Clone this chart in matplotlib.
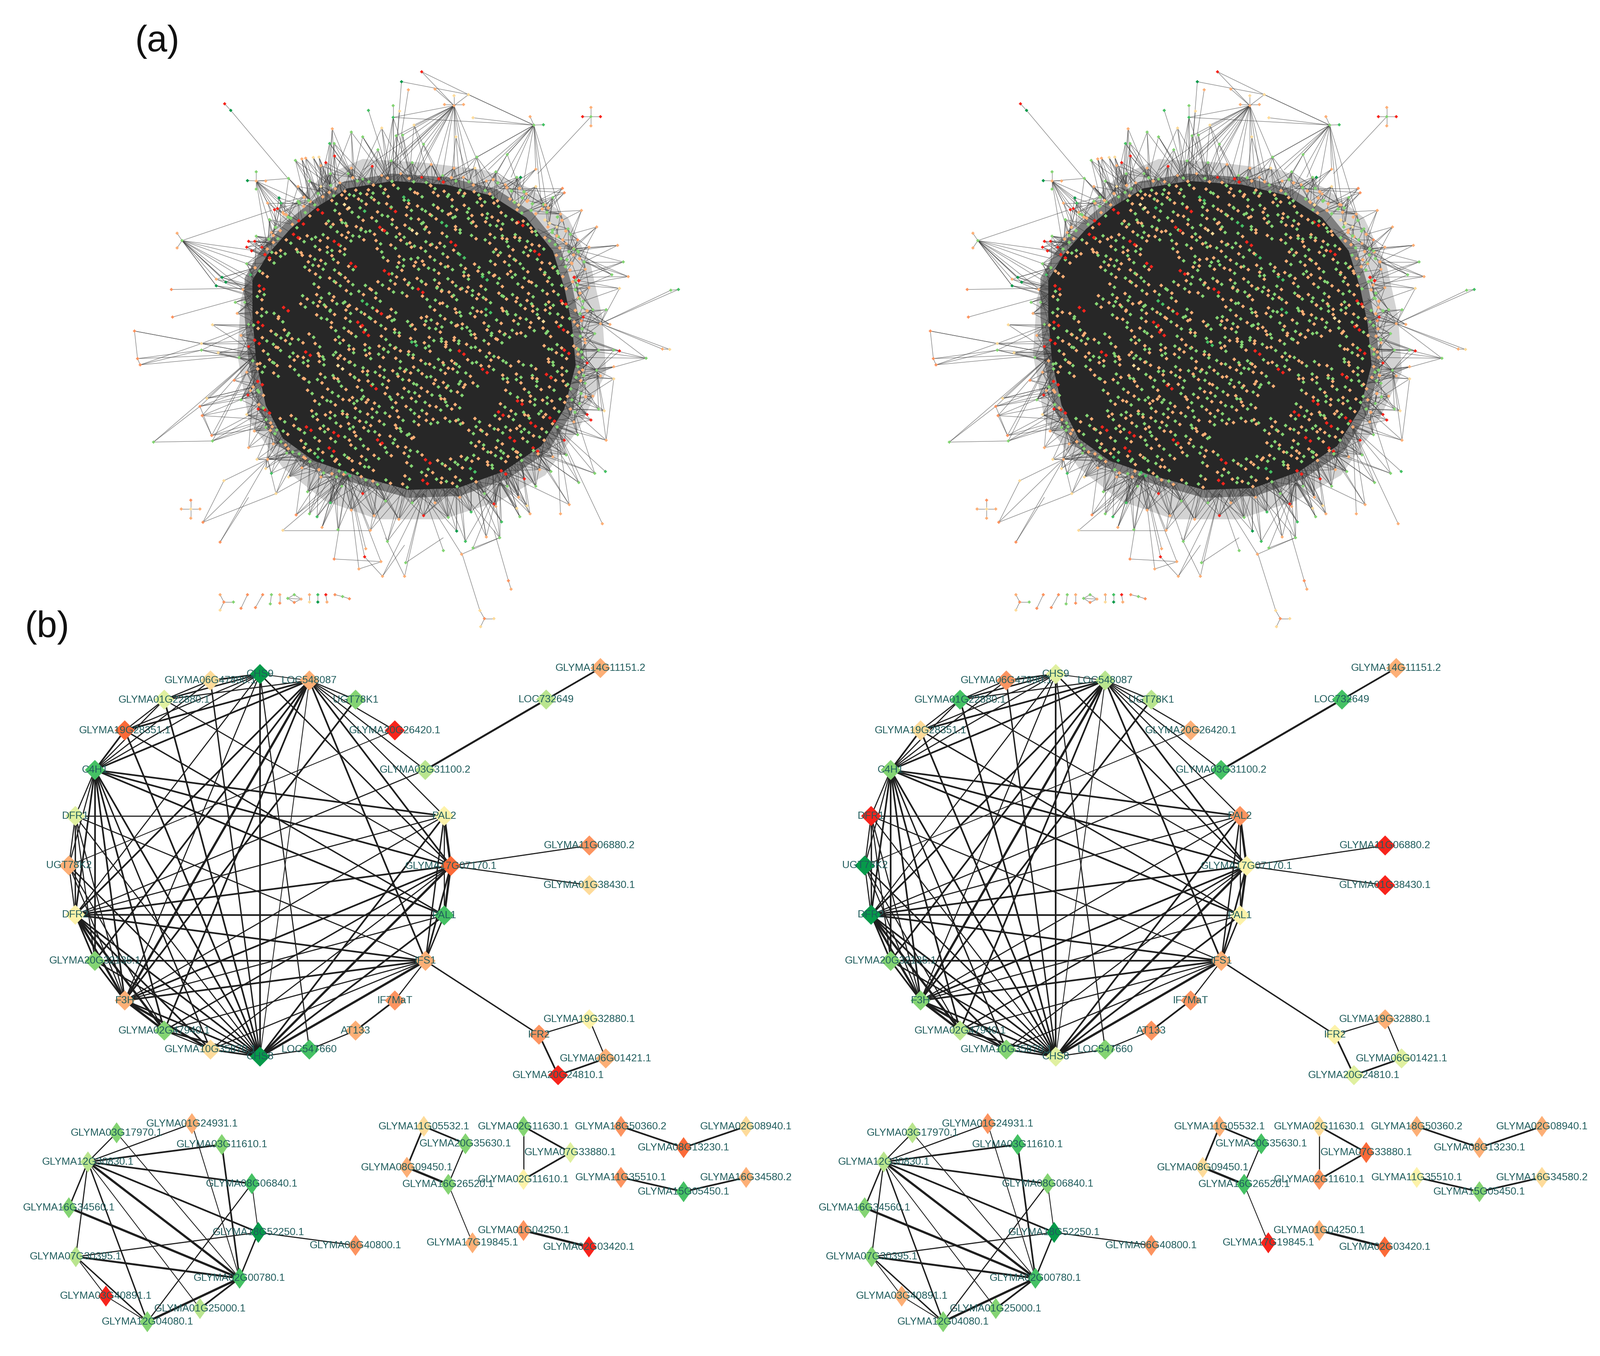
import matplotlib
matplotlib.use("Agg")
import matplotlib.pyplot as plt
import numpy as np
from matplotlib.colors import ListedColormap
from matplotlib.collections import LineCollection
from matplotlib.path import Path
from matplotlib.patches import Polygon

W, H = 4024, 3410
DX = 780            # second panel column, display units
PX = 2.566          # pixels per display unit

LEVELS = ["#f8241c", "#fb6a38", "#fd9460", "#fdaf76", "#fedb9a", "#fdf2a9",
          "#e0f0a0", "#b9e58e", "#84d473", "#45c164", "#069a4a"]
cmap = ListedColormap(LEVELS)
DOT = {"r": 0, "O": 2, "o": 3, "y": 4, "g": 8, "h": 8, "G": 9, "D": 10}
WOBBLE_X = [-8, 5, 9, -3, 2, -9, 7, -5, 0, 8, -7, 4, -1, 6, -6, 3, -4]
WOBBLE_Y = [6, -7, 2, 9, -4, -9, 5, 0, -6, 8, -2, 4, -8]

# ---------------------------------------------------------------- panel (b) nodes
names = ["CHS9", "LOC548087", "UGT78K1", "GLYMA20G26420.1", "GLYMA03G31100.2", "PAL2",
         "GLYMA17G07170.1", "PAL1", "IFS1", "IF7MaT", "AT133", "LOC547660", "CHS8",
         "GLYMA10G35870.1", "GLYMA02G47940.1", "F3H", "GLYMA20G32135.1", "DFR2", "UGT78K2",
         "DFR1", "C4H1", "GLYMA19G28351.1", "GLYMA01G22880.1", "GLYMA06G47890.1",
         "LOC732649", "GLYMA14G11151.2", "GLYMA11G06880.2", "GLYMA01G38430.1", "IFR2",
         "GLYMA19G32880.1", "GLYMA06G01421.1", "GLYMA20G24810.1"]
node_x = [254.8, 303.2, 348.5, 387.0, 416.8, 435.4, 441.8, 435.4, 417.0, 387.0, 348.5, 303.2,
          254.8, 206.3, 161.0, 122.3, 93.0, 73.8, 67.6, 73.8, 93.0, 122.3, 161.0, 206.3,
          535.3, 588.5, 577.6, 577.6, 528.3, 577.6, 593.7, 547.0]
node_y = [660.6, 666.9, 685.7, 715.8, 754.6, 799.7, 848.6, 897.1, 941.7, 980.5, 1010.0, 1028.6,
          1035.5, 1028.6, 1010.0, 980.5, 941.7, 896.5, 848.2, 799.7, 754.6, 715.8, 685.7, 666.9,
          685.6, 654.7, 828.6, 867.5, 1014.0, 999.0, 1037.3, 1053.7]
expr_left = [10, 3, 8, 0, 7, 5, 1, 9, 3, 2, 3, 9, 10, 4, 8, 3, 8, 5, 3, 6, 9, 1, 6, 4,
             7, 3, 2, 4, 2, 5, 3, 0]
expr_right = [6, 7, 7, 3, 9, 2, 5, 5, 3, 2, 2, 8, 6, 8, 7, 8, 8, 10, 10, 0, 8, 4, 9, 2,
              9, 3, 0, 0, 5, 3, 6, 6]
edges_main = [
    (0,23,3),(0,22,2.5),(0,21,2),(0,20,2),(0,1,1.5),(0,12,3),(0,15,2),(0,17,2),(0,11,2),(0,6,2.5),
    (1,2,2),(1,3,2),(1,4,2),(1,5,2),(1,6,3),(1,8,3),(1,20,3),(1,22,2),(1,21,3),(1,12,1.5),(1,15,4),
    (1,17,3),(1,16,3),(1,14,3),(2,15,3),(3,18,1.5),(4,17,2),(4,24,3.5),(24,25,3),
    (23,22,2),(23,12,2.5),(23,20,2),(22,20,2),(22,21,2),(22,12,3),(22,6,2),
    (21,20,3),(21,12,3),(21,7,2.5),
    (20,5,3),(20,6,3),(20,7,3),(20,19,2),(20,17,3),(20,16,3),(20,15,3),(20,14,3),(20,13,2.5),(20,12,3),(20,18,2),
    (19,18,2),(19,17,2.5),(19,5,2),(19,16,2),(19,15,2),(19,8,2),(19,12,2),
    (18,17,2),(18,15,2),(18,12,2.5),(18,14,2),
    (17,16,3),(17,15,4),(17,14,4),(17,13,3),(17,12,3),(17,7,3),(17,5,2),(17,6,3),(17,8,3),
    (16,15,3),(16,8,3),(16,12,2.5),
    (15,14,4),(15,13,4),(15,12,3),(15,8,3),(15,6,3),(15,7,2),(15,5,2),
    (14,13,2),(14,12,3),(14,6,2.5),(14,8,2),(13,12,3),(13,8,2),(13,6,2),
    (12,11,2),(12,8,4),(12,6,4),(12,7,3),(12,5,3),
    (8,9,2),(8,7,2.5),(8,5,2.5),(8,6,3),(8,28,2.5),(9,10,3),(10,11,2),
    (5,6,4),(5,7,2),(7,6,4),(6,26,2),(6,27,2),
    (28,29,2),(28,31,3),(29,30,2),(31,30,3)]

# lower modules
low_names = ["GLYMA03G17970.1", "GLYMA01G24931.1", "GLYMA03G11610.1", "GLYMA12G30830.1",
             "GLYMA08G06840.1", "GLYMA16G34560.1", "GLYMA18G52250.1", "GLYMA06G40800.1",
             "GLYMA07G30395.1", "GLYMA02G00780.1", "GLYMA03G40891.1", "GLYMA01G25000.1",
             "GLYMA12G04080.1", "GLYMA11G05532.1", "GLYMA20G35630.1", "GLYMA08G09450.1",
             "GLYMA16G26520.1", "GLYMA17G19845.1", "GLYMA02G11630.1", "GLYMA07G33880.1",
             "GLYMA02G11610.1", "GLYMA01G04250.1", "GLYMA02G03420.1", "GLYMA18G50360.2",
             "GLYMA02G08940.1", "GLYMA08G13230.1", "GLYMA11G35510.1", "GLYMA16G34580.2",
             "GLYMA15G05450.1"]
low_x = [114.3, 188.1, 217.4, 86.2, 246.8, 67.5, 253.2, 348.4, 74.3, 234.8, 103.8, 196.0, 144.4,
         415.4, 456.2, 398.8, 439.4, 463.1, 513.1, 559.1, 513.1, 513.1, 577.2,
         608.6, 731.3, 670.0, 608.6, 731.3, 670.0]
low_y = [1110.2, 1101.2, 1121.7, 1138.7, 1160.0, 1183.6, 1207.8, 1220.5, 1231.6, 1252.7, 1270.2,
         1282.4, 1295.3, 1103.9, 1120.9, 1144.0, 1160.7, 1218.0, 1103.9, 1129.5, 1155.9, 1205.9,
         1222.0, 1103.9, 1103.9, 1124.7, 1153.9, 1153.9, 1167.9]
low_left = [8, 3, 8, 7, 9, 8, 10, 2, 7, 9, 0, 7, 8, 4, 8, 3, 8, 3, 8, 6, 5, 2, 0, 2, 4, 1, 2, 3, 9]
low_right = [7, 2, 9, 7, 8, 8, 10, 2, 8, 9, 3, 8, 8, 3, 9, 4, 9, 0, 4, 1, 2, 3, 1, 3, 3, 3, 5, 4, 8]
edges_low = [(3,0,2),(3,1,2),(3,2,3),(3,4,3),(3,6,3),(3,9,4),(3,5,2.5),(3,8,2),(3,12,2.5),(3,11,1.5),
             (0,9,1.5),(1,9,1.5),(2,9,3),(4,6,1.5),(4,12,2),(6,9,2.5),(6,7,2),(6,8,2),(5,9,4),(8,9,3.5),
             (8,10,1.5),(8,12,2.5),(10,12,1.5),(12,9,4),(11,9,3),
             (13,14,3),(13,15,3),(14,16,2),(15,16,4),(16,17,1.5),(18,19,3),(18,20,2),(19,20,3),(21,22,4),
             (23,25,3),(24,25,3),(26,28,3),(27,28,3)]

# ---------------------------------------------------------------- panel (a), units of the reading grid
core_map_left = [
 "..............o.g.o..o.g.r.o.g..o............",
 "..........g.o.oo.g.o.g.o.o.g.o.g.o.o.........",
 ".......o.g.oo.g.o.g.G.o.o.g.o.o.g.o.g........",
 "......g.o.o.y.g.o.o.g.o.g.g.o.g.o.y.o.g......",
 ".....o.g.r.g.o.g.o.r.o.g.o.o.g.g.o.o.g.o.....",
 "....o.r...g.o.g.o.g.o.o.g.o.g.o.o.g.o.y.g....",
 "....g.o...o.g.oo.r.g.o.g.G.o.g.o.g.r.o.o.....",
 "...o.r.o.g.g.o.g.o.o.y.g.o.o.g.o.g.g.o.g.o...",
 "...g.o.o.g.r.o.g.o.g.o.g.o.r...g.o.o.g.o.g...",
 "..o.o.o.g.o.g...o.o.g.o.g.o.....o.g.o.o.g.o..",
 "..r.o.g.o.g.o.....g.o.g.o.g.G...g.o.g.r.o.g..",
 "..o....o.o.g.r.....o.g.o.o.g.o.g.o.o.g.o.g.o.",
 ".o.....g.o.g.o....r.g.o.g.o.g.o.g.o.g.o.o.g..",
 ".o......o.o.g.....g.o.o.g.g.o.G.o.o.g.o.g.r..",
 ".r.......g.o.o.g.o.g.o.g.o.g.o.o.g.g.o.o.g.o.",
 ".o......o.g.o.g.o.o.g.r.g.o.g.o.o.g.o.g.o.g..",
 ".g.....g.o.o.g.G.o.....o.g.o.g.o.g.o.o.o.r.o.",
 ".o..r.o.g.o.g.o.g.o....g.o.o.g.G.o.g.o.g.o.g.",
 ".o.g.....o.g.o.o.r.o...o.g.o.g.o.o.g.o.o.g.o.",
 ".r.o......g.o.r.g.o.g.o.o.g.o.o.g.o.g.y.o.g..",
 ".g.o.o.....o.g.o.g.o.g.o.g.o.g.o.o.g.o.o.r.o.",
 ".o.o.g.o...g.o.r.o.g.o.o.g.o.g.g.o.o...g.o.g.",
 ".r.g.o.g.o.o.g.o.o.g.G.o.g.o.o.g.o.....o.g.o.",
 ".o.o.g.r.o.g.o.g.o.g.o.g.o.r.g.o.......g.r.o.",
 ".g.o.g.o.o.g.o.o.g.o.g.o.g.o.o.g.o.....o.g.o.",
 ".o.g.o.g.o.y.o.g.o.g.o.o.g.o.g.o.g.o.g.o.o.g.",
 ".o.o...g.o.g.o.o.g.o.g.o.g.o.g.r.o.o.g.r.g.o.",
 ".r.....o.g.o.g.o.g.o.o.g.o.g.o...g.g.o.g.o.g.",
 ".o......o.o.g.o.r.g.o.g.o.o.g.....o.o.g.o.o..",
 ".g.......o.g.o.g.o.o.g.o.g.o.......g.o.g.o.g.",
 ".o.......o.g.o.g.o.g.o.g.o.o.....o.r.o.o.g...",
 "..r.....o.o.g.o.o.g.o.g.o.g.....r.o.g.g.o.o..",
 "..g.o.o.g.o.o.g.o.g.o.g.o.o.g.o.g.o.o.g.r....",
 "...o.o.r.g.g.o.g.o.o.g.o...o.g.o.g.o.r.o.....",
 "...o.g.o.o.r.g.o.g.o.g.......o.g.o.o.g.o.....",
 "....g.o.g.o.g.o.r.o.g.........o.g.r.o.g......",
 ".....o.o.g.r.o.g.o.g.o.......g.o.o.g.r.......",
 "......g.o.g.g.o.o.g.o.g....o.g.o.g.o.g.......",
 ".......o.G.o.g.o.....o.r.o.o.g.o.g.o.........",
 ".........o.g.o.g.......g.o.g.G.o.r...........",
 "...........o.G.o.....o.g.o.o.g...............",
 "................o.g.o.r.g.o..................",
]
core_map_right = [
 "..............g.o.g..g.o.r.g.o..g............",
 "..........o.g.gg.o.g.o.g.g.o.g.o.g.g.........",
 ".......g.o.go.o.g.o.G.g.o.o.g.g.o.g.o........",
 "......o.g.g.y.o.g.g.o.g.o.o.g.o.g.y.g.o......",
 ".....g.o.r.o.g.G.g.r.g.o.g.g.o.o.g.g.o.g.....",
 "....g.r...o.g.o.g.o.g.g.o.g.o.g.g.o.g.y.o....",
 "....o.g...g.o.gg.r.o.g.o.G.g.o.g.o.r.g.g.....",
 "...g.r.g.o.o.g.o.g.g.y.o.g.g.o.g.o.o.g.o.g...",
 "...o.g.g.o.r.g.o.g.o.g.o.g.r...o.g.g.o.g.o...",
 "..g.g.o.o.g.o...g.g.o.g.o.g.....g.o.g.g.o.g..",
 "..r.g.o.g.o.g.....o.g.o.g.o.G...o.g.o.r.g.o..",
 "..g....g.g.o.r.....g.o.g.g.o.g.o.g.g.o.g.o.g.",
 ".g.....o.g.o.g....r.o.g.o.g.o.g.o.g.o.g.g.o..",
 ".o......g.g.o.....o.g.g.o.o.g.G.g.g.o.g.o.r..",
 ".r.......o.g.g.o.g.o.g.o.g.o.g.g.o.o.g.g.o.g.",
 ".g......g.o.g.o.g.g.o.r.o.g.o.g.g.o.g.o.g.o..",
 ".o.....o.g.g.o.G.g.....g.o.g.o.g.o.g.g.g.r.g.",
 ".g..r.g.o.g.o.g.o.g....o.g.g.o.G.g.o.g.o.g.o.",
 ".g.o.....g.o.g.g.r.g...g.o.g.o.g.g.o.g.g.o.g.",
 ".r.g......o.g.r.o.g.o.g.g.o.g.g.o.g.o.y.g.o..",
 ".o.g.g.....g.o.g.o.g.o.g.o.g.o.g.g.o.g.g.r.g.",
 ".g.g.o.g...o.g.r.g.o.g.g.o.g.o.o.g.g...o.g.o.",
 ".r.o.g.o.g.g.o.g.g.o.G.g.o.g.g.o.g.....g.o.g.",
 ".g.g.o.r.g.o.g.o.g.o.g.o.g.r.o.g.......o.r.g.",
 ".o.g.o.g.g.o.g.g.o.g.o.g.o.g.g.o.g.....g.o.g.",
 ".g.o.g.o.g.y.g.o.g.o.g.g.o.g.o.g.o.g.o.g.g.o.",
 ".g.g...o.g.o.g.g.o.g.o.g.o.g.o.r.g.g.o.r.o.g.",
 ".r.....g.o.g.o.g.o.g.g.o.g.o.g...o.o.g.o.g.o.",
 ".g......g.g.o.g.r.o.g.o.g.g.o.....g.g.o.g.g..",
 ".o.......g.o.g.o.g.g.o.g.o.g.......o.g.o.g.o.",
 ".g.......g.o.g.o.g.o.g.o.g.g.....g.r.g.g.o...",
 "..r.....g.g.o.g.g.o.g.o.g.o.....r.g.o.o.g.g..",
 "..o.g.g.o.g.g.o.g.o.g.o.g.g.o.g.o.g.g.o.r....",
 "...g.g.r.o.o.g.o.g.g.o.g...g.o.g.o.g.r.g.....",
 "...g.o.g.g.r.o.g.o.g.o.......g.o.g.g.o.g.....",
 "....o.g.o.g.o.g.r.g.o.........g.o.r.g.o......",
 ".....g.g.o.r.g.o.g.o.g.......o.g.g.o.r.......",
 "......o.g.o.o.g.g.o.g.o....g.o.g.o.g.o.......",
 ".......g.G.g.o.g.....g.r.g.g.o.g.o.g.........",
 ".........g.o.g.o.......o.g.o.G.g.r...........",
 "...........g.G.g.....g.o.g.g.o...............",
 "................g.o.g.r.o.g..................",
]
halo_x = [640, 800, 960, 1080, 1180, 1240, 1270, 1280, 1210, 1120, 1000, 850, 680, 540, 430, 340, 310, 320, 360, 440, 530]
halo_y = [270, 280, 300, 350, 430, 560, 700, 850, 1000, 1130, 1200, 1250, 1250, 1200, 1110, 980, 800, 650, 520, 410, 320]
core_x = [600, 720, 860, 980, 1070, 1140, 1170, 1190, 1200, 1170, 1110, 1010, 890, 760, 620, 510, 430, 385, 360, 350, 350, 390, 450, 520]
core_y = [350, 330, 340, 370, 430, 520, 620, 720, 830, 950, 1050, 1120, 1165, 1170, 1130, 1090, 1030, 940, 820, 700, 600, 530, 460, 400]

anchors = {"a": (660, 570), "b": (770, 690), "c": (930, 520), "d": (420, 620), "e": (460, 930),
           "f": (800, 1040), "g": (915, 920), "h": (1060, 810), "i": (540, 420), "j": (720, 350),
           "k": (880, 125), "l": (1090, 178), "m": (1000, 350), "n": (1180, 520), "o": (1265, 718),
           "p": (1255, 845), "q": (1150, 1000), "r": (1000, 1150), "s": (800, 1180), "t": (600, 1130),
           "u": (390, 1087), "v": (360, 800), "w": (360, 330), "x": (165, 492), "y": (400, 500), "z": (1195, 515)}
hub_fans = {
    "k": [(640, 300), (680, 320), (720, 300), (760, 340), (790, 300), (820, 345), (850, 310), (880, 340), (905, 305), (930, 345), (960, 320), (800, 250), (745, 260), (700, 290)],
    "l": [(880, 300), (930, 320), (970, 300), (1000, 340), (1030, 320), (1060, 350), (1110, 400), (1130, 440), (1170, 450), (940, 265), (1020, 258)],
    "u": [(430, 1020), (460, 1040), (480, 1060), (510, 1070), (530, 1090), (470, 1080), (440, 1000), (500, 1050), (520, 1075), (545, 1095), (425, 990), (405, 970)],
    "p": [(1120, 780), (1140, 810), (1150, 830), (1170, 860), (1180, 760), (1160, 800), (1190, 880), (1200, 900)],
    "o": [(1130, 660), (1160, 680), (1180, 700), (1170, 740), (1190, 650), (1200, 770), (1210, 620)],
    "z": [(1100, 460), (1130, 530), (1150, 500), (1090, 510), (1120, 480), (1160, 560)],
    "w": [(420, 450), (450, 420), (390, 520), (405, 480), (470, 380), (440, 400)],
    "x": [(340, 590), (350, 610), (345, 640), (355, 540), (350, 560), (360, 520), (270, 592), (255, 615)],
}
outer_nodes = [
 (795,33,"r","k"),(742,60,"D","j"),(760,82,"o","j"),(830,80,"o","k"),(918,95,"y","kl"),(720,125,"g","j"),
 (655,138,"G","j"),(737,140,"y","j"),(720,157,"G","jk"),(560,188,"o","i"),(610,197,"g","j"),(640,210,"g","j"),
 (690,186,"y","j"),(775,178,"y","k"),(728,207,"g","k"),(745,205,"g","k"),(553,228,"G","i"),(565,228,"g","i"),
 (680,245,"g","j"),(800,230,"g","k"),(885,210,"y","k"),(930,158,"y","l"),(940,265,"g","m"),(1020,258,"g","l"),
 (1095,298,"o","l"),(1055,320,"D","m"),(566,262,"r","i"),(543,280,"r","i"),(530,288,"o","i"),(510,266,"y","i"),
 (490,268,"o","i"),(463,274,"g","i"),(480,270,"o","i"),(525,265,"y","i"),(445,323,"g","iw"),(602,310,"g","j"),
 (1165,350,"O","m"),(1170,362,"O","m"),(1215,410,"o","n"),(1255,455,"o","n"),(1205,490,"O","z"),(1310,505,"o","z"),
 (1235,510,"o","z"),(1325,550,"g","z"),(1338,590,"o","n"),(1295,585,"g","z"),(1315,622,"y","o"),(1450,627,"g","o"),
 (1470,625,"G","o"),(1280,680,"g","o"),(1290,720,"o","o"),(1215,710,"O","o"),(1300,790,"g","p"),(1315,792,"r","p"),
 (1385,812,"g","o"),(1428,787,"o","o"),(1447,788,"y","o"),(1300,835,"o","p"),(1300,868,"y","p"),(1275,955,"y","p"),
 (1260,950,"g","p"),(1240,980,"r","q"),(1280,1035,"o","p"),(1278,1120,"G","q"),(1250,1125,"g","q"),(1208,1150,"g","q"),
 (1270,1262,"o","q"),(1183,1210,"o","q"),(1160,1235,"o","q"),(1080,1235,"o","r"),(1072,1213,"y","r"),(1053,1243,"g","r"),
 (1045,1220,"y","r"),(1005,1257,"G","r"),(985,1208,"r","r"),(1000,1300,"g","r"),(965,1298,"o","r"),(930,1328,"g","r"),
 (910,1310,"G","r"),(887,1282,"D","s"),(852,1335,"g","s"),(900,1345,"o","s"),(753,1368,"g","s"),(750,1405,"o","s"),
 (692,1405,"o","s"),(688,1365,"o","t"),(705,1310,"g","s"),(645,1352,"r","t"),(630,1385,"o","t"),(565,1358,"O","t"),
 (648,1330,"o","t"),(660,1280,"o","t"),(430,1280,"y","t"),(575,1278,"g","t"),(533,1272,"o","t"),(520,1243,"G","t"),
 (465,1238,"O","t"),(500,1235,"g","t"),(400,1125,"G","u"),(412,1180,"y","u"),(220,1258,"O","u"),(265,1312,"O","u"),
 (275,1145,"y","u"),(385,1112,"y","u"),(362,1087,"y","u"),(340,1055,"o","v"),(212,943,"O","v"),(218,968,"O","v"),
 (243,1022,"O","v"),(245,1037,"g","v"),(90,1040,"g","v"),(230,921,"y","v"),(302,872,"O","v"),(338,912,"r","v"),
 (260,797,"y","v"),(216,772,"y","v"),(216,790,"g","v"),(40,738,"O","v"),(48,813,"O","v"),(55,830,"O","v"),
 (245,721,"y","v"),(140,700,"O","d"),(137,625,"O","d"),(305,660,"g","d"),(255,597,"o","x"),(270,592,"D","x"),
 (280,605,"D","x"),(255,615,"D","x"),(335,510,"r","y"),(340,494,"r","y"),(356,494,"r","y"),(348,520,"r","y"),
 (408,408,"r","w"),(416,405,"r","w"),(420,376,"D","wy"),(390,390,"o","w"),
]
# nodes in the hatched ring round the dense core
ring_nodes = [
 (470,345,"o"),(500,330,"g"),(530,345,"y"),(555,310,"g"),(580,335,"o"),(610,295,"o"),(640,325,"g"),(665,290,"r"),(690,315,"o"),(715,275,"g"),
 (740,310,"o"),(770,280,"g"),(795,320,"r"),(820,285,"o"),(850,315,"g"),(880,295,"o"),(905,320,"o"),(935,295,"y"),(965,330,"o"),(990,305,"g"),
 (1015,340,"o"),(1045,320,"g"),(1070,365,"o"),(1095,345,"y"),(1120,395,"o"),(1140,375,"g"),(1160,420,"o"),(1150,455,"y"),(1180,460,"g"),(1175,500,"o"),
 (1205,520,"g"),(1190,555,"o"),(1225,570,"o"),(1200,600,"g"),(1235,620,"o"),(1210,650,"g"),(1245,680,"g"),(1220,700,"r"),(1250,745,"g"),(1225,770,"o"),
 (1260,790,"g"),(1230,825,"r"),(1265,860,"o"),(1225,880,"g"),(1245,915,"o"),(1210,935,"g"),(1230,965,"r"),(1195,985,"o"),(1205,1020,"g"),(1170,1035,"r"),
 (1175,1075,"g"),(1140,1080,"o"),(1135,1120,"g"),(1105,1115,"o"),(1095,1160,"g"),(1065,1140,"r"),(1050,1190,"o"),(1020,1160,"g"),(990,1215,"o"),(960,1180,"g"),
 (925,1230,"G"),(895,1190,"o"),(865,1245,"g"),(830,1205,"o"),(800,1240,"r"),(770,1205,"g"),(735,1250,"o"),(700,1200,"g"),(670,1240,"o"),(640,1180,"r"),
 (610,1225,"o"),(585,1160,"g"),(555,1205,"G"),(530,1135,"o"),(495,1175,"g"),(480,1110,"o"),(445,1135,"y"),(440,1070,"g"),(405,1045,"o"),(385,1000,"g"),
 (355,1010,"o"),(365,950,"r"),(335,965,"y"),(345,900,"o"),(320,925,"g"),(335,850,"o"),(315,810,"g"),(340,780,"r"),(320,750,"o"),(340,720,"g"),
 (310,690,"o"),(330,660,"g"),(325,625,"o"),(345,585,"G"),(335,555,"g"),(375,510,"r"),(360,480,"g"),(400,470,"o"),(395,435,"g"),(430,415,"o"),
 (425,390,"G"),(470,385,"g"),
]
component_nodes = [
 (880,125,"o"),(855,122,"o"),(905,122,"o"),(880,98,"y"),(1090,178,"g"),(1080,155,"o"),(1115,177,"G"),
 (360,330,"o"),(337,329,"D"),(385,330,"o"),(360,305,"g"),(360,352,"g"),(165,492,"g"),(152,472,"o"),(152,512,"o"),
 (390,1087,"o"),(1240,155,"g"),(1218,155,"r"),(1265,155,"r"),(1240,130,"o"),(1240,180,"o"),
 (188,1222,"y"),(163,1222,"o"),(212,1222,"o"),(188,1198,"O"),(188,1247,"o"),
 (265,1455,"o"),(275,1475,"O"),(265,1497,"y"),(300,1475,"g"),(337,1455,"O"),(320,1492,"O"),(377,1455,"O"),(358,1490,"O"),
 (400,1455,"g"),(397,1480,"g"),(422,1455,"o"),(422,1478,"O"),(460,1455,"g"),(443,1465,"g"),(478,1467,"o"),(460,1476,"O"),
 (500,1455,"o"),(500,1475,"y"),(522,1455,"G"),(522,1475,"D"),(543,1455,"r"),(546,1475,"o"),(567,1455,"O"),(587,1460,"g"),(605,1466,"O"),
 (960,1520,"O"),(948,1498,"y"),(985,1520,"y"),(950,1542,"y"),(1023,1417,"O"),(1030,1440,"o"),(277,120,"r"),(293,138,"D"),(1265,718,"o"),(1255,845,"g"),(1195,515,"g"),
]
component_edges = [
 ((855,122),(905,122)),((880,98),(880,125)),((1090,178),(1080,155)),((1090,178),(1115,177)),
 ((337,329),(385,330)),((360,305),(360,352)),((165,492),(152,472)),((165,492),(152,512)),((362,1087),(390,1087)),
 ((1218,155),(1265,155)),((1240,130),(1240,180)),((1240,155),(1100,310)),((163,1222),(212,1222)),((188,1198),(188,1247)),
 ((265,1455),(275,1475)),((265,1497),(275,1475)),((275,1475),(300,1475)),((337,1455),(320,1492)),((377,1455),(358,1490)),
 ((400,1455),(397,1480)),((422,1455),(422,1478)),((460,1455),(443,1465)),((460,1455),(478,1467)),((443,1465),(460,1476)),
 ((478,1467),(460,1476)),((443,1465),(478,1467)),((500,1455),(500,1475)),((522,1455),(522,1475)),((543,1455),(546,1475)),
 ((567,1455),(587,1460)),((587,1460),(605,1466)),((960,1520),(948,1498)),((960,1520),(985,1520)),((960,1520),(950,1542)),
 ((948,1498),(900,1340)),((1023,1417),(1030,1440)),((1023,1417),(985,1280)),((277,120),(293,138)),((293,138),(445,325)),
 ((795,33),(918,95)),((742,60),(918,95)),((918,95),(1090,178)),((720,157),(1090,178)),((165,492),(400,410)),
 ((40,738),(48,813)),((40,738),(216,772)),((48,813),(216,790)),((55,830),(216,772)),((55,830),(216,790)),((48,813),(55,830)),
 ((212,943),(243,1022)),((212,943),(90,1040)),((90,1040),(245,1037)),((218,968),(243,1022)),((220,1258),(275,1145)),
 ((265,1312),(340,1190)),((220,1258),(412,1180)),((430,1280),(660,1280)),((565,1358),(688,1365)),((630,1385),(690,1365)),
 ((1300,868),(1280,1035)),((1450,627),(1470,625)),((1428,787),(1447,788)),((1300,790),(1385,812)),((645,1352),(692,1405)),
 ((692,1405),(750,1320)),((750,1405),(700,1300)),((753,1368),(852,1300)),((900,1345),(1000,1300)),((930,1328),(1000,1300)),
]


def map_points(core_map, ox, oy):
    pts = []
    for r, row in enumerate(core_map):
        for c, ch in enumerate(row):
            if ch != ".":
                wx = WOBBLE_X[(r * 3 + c) % len(WOBBLE_X)]
                wy = WOBBLE_Y[(r + c * 5) % len(WOBBLE_Y)]
                pts.append((340 + 20 * c + (10 if r % 2 else 0) + ox + wx, 330 + 20 * r + oy + wy, DOT[ch]))
    return pts


def draw_hairball(ax, first_map, second_map):
    ax.set_xlim(0, 1568)
    ax.set_ylim(1568, 0)
    ax.axis("off")
    ax.add_patch(Polygon(list(zip(halo_x, halo_y)), closed=True, fc="#707070", ec="none", alpha=.30, zorder=1))
    dots = map_points(first_map, 0, 0) + map_points(second_map, 12, 9)
    dot_xy = np.array([(p[0], p[1]) for p in dots], float)

    segs = []
    for hub, targets in hub_fans.items():
        segs += [[anchors[hub], t] for t in targets]
    for x, y, c, links in outer_nodes:
        segs += [[(x, y), anchors[key]] for key in links]
    segs += [[a, b] for a, b in component_edges]
    # the ring nodes and the nearer outer nodes each tie to core nodes near them
    tie_sources = [(n[0], n[1], 7) for n in ring_nodes] + [(n[0], n[1], 3) for n in outer_nodes]
    for x, y, k in tie_sources:
        d = np.hypot(dot_xy[:, 0] - x, dot_xy[:, 1] - y)
        if d.min() > 170:
            continue
        for j in np.argsort(d)[:k * 3][::3]:
            segs.append([(x, y), tuple(dot_xy[j])])
    ax.add_collection(LineCollection(segs, colors="#3c3c3c", linewidths=1.0, alpha=.62, zorder=2))

    cx, cy = np.mean(core_x), np.mean(core_y)
    fringe = [(cx + (x - cx) * 1.05, cy + (y - cy) * 1.05) for x, y in zip(core_x, core_y)]
    ax.add_patch(Polygon(fringe, closed=True, fc="#3a3a3a", ec="none", alpha=.55, zorder=2.5))
    ax.add_patch(Polygon(list(zip(core_x, core_y)), closed=True, fc="#272727", ec="none", zorder=3))
    ax.scatter(dot_xy[:, 0], dot_xy[:, 1], c=[p[2] for p in dots], cmap=cmap, vmin=0, vmax=10,
               marker="D", s=26, linewidths=0, zorder=4)
    all_nodes = [(n[0], n[1], n[2]) for n in outer_nodes] + ring_nodes + component_nodes
    ax.scatter([n[0] for n in all_nodes], [n[1] for n in all_nodes], c=[DOT[n[2]] for n in all_nodes],
               cmap=cmap, vmin=0, vmax=10, marker="D", s=20, linewidths=0, zorder=5)


NARROW = Path([(0, -1), (.72, 0), (0, 1), (-.72, 0), (0, -1)], closed=True)
TEXT = "#1f5c5c"


def draw_module(ax, x, y, vals, labels, edges, offset, marker, size):
    xx = [v + offset for v in x]
    for a, b, w in edges:
        ax.plot([xx[a], xx[b]], [y[a], y[b]], color="#1e1e1e", lw=w * 1.0, solid_capstyle="round", zorder=2)
    ax.scatter(xx, y, c=vals, cmap=cmap, vmin=0, vmax=10, marker=marker, s=size, linewidths=0, zorder=3)
    for px_, py_, t in zip(xx, y, labels):
        ax.text(px_, py_, t, ha="center", va="center", fontsize=18.6, color=TEXT,
                family="Liberation Sans", zorder=4)


fig = plt.figure(figsize=(W / 100, H / 100), dpi=100, facecolor="white")
main = fig.add_axes([0, 0, 1, 1])
main.set_xlim(0, W / PX)
main.set_ylim(H / PX, 0)
main.axis("off")

for origin, first, second in ((300, core_map_left, core_map_right), (300 + DX * PX, core_map_right, core_map_left)):
    hair = fig.add_axes([origin / W, 1 - 1600 / H, 1500 / W, 1450 / H])
    hair.patch.set_alpha(0)
    draw_hairball(hair, first, second)

for offset, ev, lv in ((0, expr_left, low_left), (DX, expr_right, low_right)):
    draw_module(main, node_x, node_y, ev, names, edges_main, offset, "D", 660)
    draw_module(main, low_x, low_y, lv, low_names, edges_low, offset, NARROW, 1450)

main.text(154, 41, "(a)", fontsize=66, ha="center", va="center", family="Liberation Sans", color="#111111")
main.text(46, 615, "(b)", fontsize=66, ha="center", va="center", family="Liberation Sans", color="#111111")

fig.savefig("out.png", dpi=100, facecolor="white")
